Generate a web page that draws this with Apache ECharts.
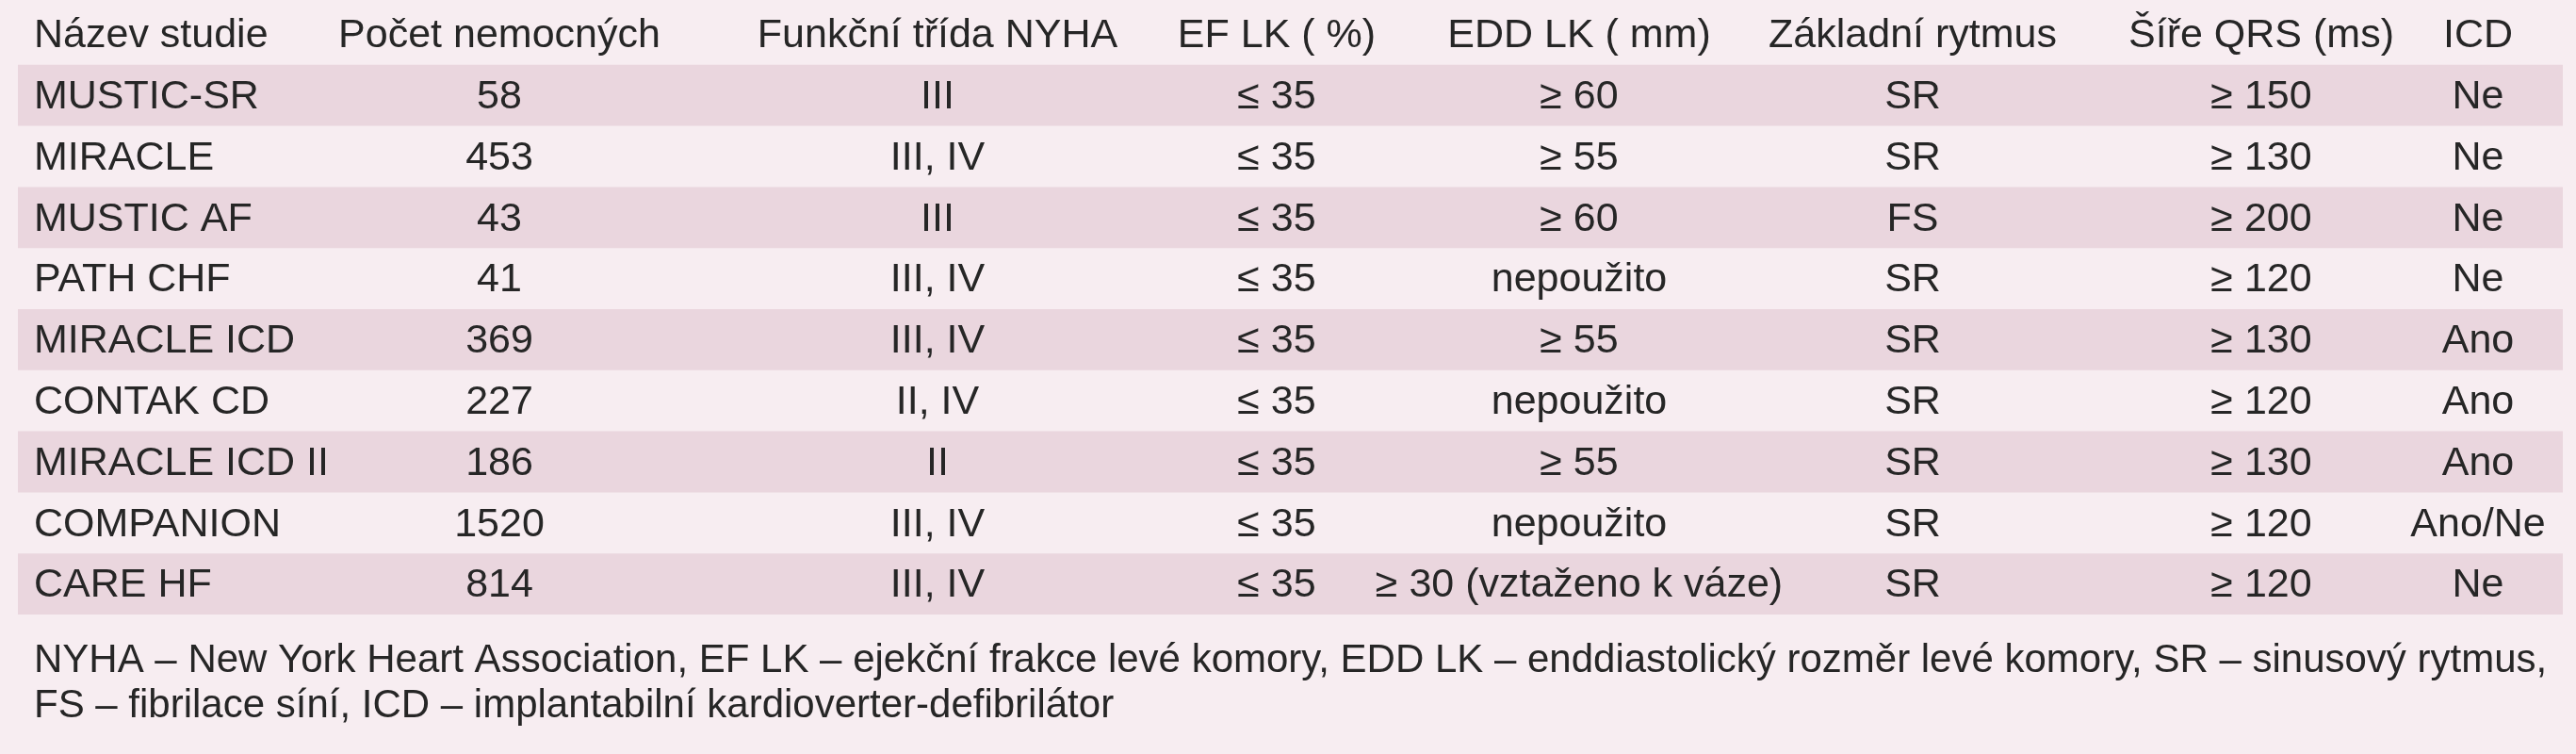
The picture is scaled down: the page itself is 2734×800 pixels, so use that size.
<!DOCTYPE html>
<head>
    <meta charset="utf-8">
    <title>CRT studie</title>
    <script type="text/javascript" src="https://cdn.jsdelivr.net/npm/echarts@6/dist/echarts.min.js"></script>
    <style>html,body{margin:0;background:#f7edf1;}</style>
</head>
<body>
<div id="main" style="width:2734px;height:800px"></div>
<script type="text/javascript">
    // data
    var headers = ['Název studie', 'Počet nemocných', 'Funkční třída NYHA', 'EF LK ( %)', 'EDD LK ( mm)', 'Základní rytmus', 'Šíře QRS (ms)', 'ICD'];
    var studies = ['MUSTIC-SR', 'MIRACLE', 'MUSTIC AF', 'PATH CHF', 'MIRACLE ICD', 'CONTAK CD', 'MIRACLE ICD II', 'COMPANION', 'CARE HF'];
    var patients = ['58', '453', '43', '41', '369', '227', '186', '1520', '814'];
    var nyha = ['III', 'III, IV', 'III', 'III, IV', 'III, IV', 'II, IV', 'II', 'III, IV', 'III, IV'];
    var ef = ['≤ 35', '≤ 35', '≤ 35', '≤ 35', '≤ 35', '≤ 35', '≤ 35', '≤ 35', '≤ 35'];
    var edd = ['≥ 60', '≥ 55', '≥ 60', 'nepoužito', '≥ 55', 'nepoužito', '≥ 55', 'nepoužito', '≥ 30 (vztaženo k váze)'];
    var rhythm = ['SR', 'SR', 'FS', 'SR', 'SR', 'SR', 'SR', 'SR', 'SR'];
    var qrs = ['≥ 150', '≥ 130', '≥ 200', '≥ 120', '≥ 130', '≥ 120', '≥ 130', '≥ 120', '≥ 120'];
    var icd = ['Ne', 'Ne', 'Ne', 'Ne', 'Ano', 'Ano', 'Ano', 'Ano/Ne', 'Ne'];
    var footnote = ['NYHA – New York Heart Association, EF LK – ejekční frakce levé komory, EDD LK – enddiastolický rozměr levé komory, SR – sinusový rytmus,',
                    'FS – fibrilace síní, ICD – implantabilní kardioverter-defibrilátor'];

    // layout
    var colCenter = [36, 530, 995, 1355, 1676, 2030, 2400, 2630];
    var FONT = '"Liberation Sans Narrow", "Liberation Sans", Arial, sans-serif';
    var columns = [studies, patients, nyha, ef, edd, rhythm, qrs, icd];
    var rowNames = ['header'].concat(studies);

    var cells = [];
    for (var r = 0; r < rowNames.length; r++) {
        for (var c = 0; c < headers.length; c++) {
            cells.push([c, r, r === 0 ? headers[c] : columns[c][r - 1]]);
        }
    }

    var myChart = echarts.init(document.getElementById('main'));
    var option = {
        backgroundColor: '#f7edf1',
        animation: false,
        grid: { left: 0, right: 0, top: 4, height: 648 },
        xAxis: { type: 'value', min: 0, max: 2734, show: false },
        yAxis: { type: 'category', data: rowNames, inverse: true, show: false },
        series: [
            {
                // zebra bands
                type: 'custom',
                silent: true,
                data: rowNames.map(function (n, i) { return [0, i]; }),
                renderItem: function (params, api) {
                    var i = api.value(1);
                    if (i % 2 === 0) return null;
                    var p = api.coord([0, i]);
                    var h = api.size([0, 1])[1];
                    return {
                        type: 'rect',
                        shape: { x: api.coord([19, 0])[0], y: p[1] - h / 2, width: api.coord([2720, 0])[0] - api.coord([19, 0])[0], height: h },
                        style: { fill: '#ead6de' }
                    };
                }
            },
            {
                type: 'custom',
                silent: true,
                data: cells,
                renderItem: function (params, api) {
                    var c = api.value(0), r = api.value(1);
                    var p = api.coord([colCenter[c], r]);
                    return {
                        type: 'text',
                        x: p[0], y: p[1] + 2,
                        style: {
                            text: cells[params.dataIndex][2],
                            font: '43px ' + FONT,
                            fill: '#262626',
                            align: c === 0 ? 'left' : 'center',
                            verticalAlign: 'middle'
                        }
                    };
                }
            }
        ],
        graphic: footnote.map(function (t, i) {
            return {
                type: 'text', left: 36, top: 680 + i * 48,
                style: { text: t, font: '42px ' + FONT, fill: '#262626' }
            };
        })
    };
    myChart.setOption(option);
</script>
</body>
